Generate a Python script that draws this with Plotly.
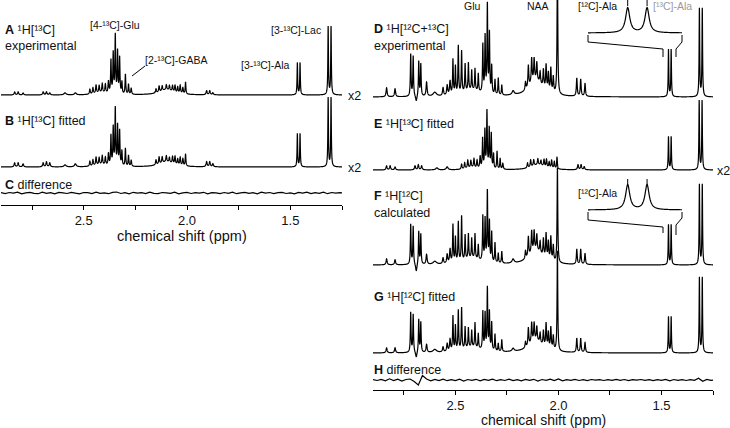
import numpy as np
import plotly.graph_objects as go

W, H = 730, 428

# ---------------- DATA ----------------
# 1H[13C] (13C-edited) resonances: ppm, height in A (experimental), height in B/E (fitted), half-width (ppm)
c13_ppm = [2.834, 2.817, 2.793, 2.696, 2.680, 2.664, 2.590, 2.540, 2.470, 2.455, 2.440, 2.425,
           2.410, 2.395, 2.380, 2.368, 2.357, 2.347, 2.336, 2.326, 2.315, 2.298, 2.283, 2.270,
           2.420, 2.100, 2.150, 2.135, 2.120, 2.100, 2.085, 2.070, 2.058, 2.045, 2.033, 2.020,
           2.007, 1.905, 1.890, 1.875, 1.466, 1.453, 1.317, 1.303]
c13_hA = [3, 3, 2, 3, 3, 2, 2, 2, 5, 6, 8, 7,
          9, 9, 12, 33, 40, 58, 42, 36, 12, 20, 10, 6,
          2, 5, 4, 6, 5, 5, 5, 6, 7, 6, 8, 6,
          12, 4, 4, 2, 32, 32, 68, 68]
c13_hB = [4, 4, 3, 4, 5, 4, 2, 3, 5, 6, 8, 7,
          9, 8, 12, 30, 38, 57, 40, 35, 15, 18, 11, 6,
          2, 5, 5, 7, 6, 6, 5, 7, 8, 6, 8, 7,
          12, 5, 5, 3, 33, 33, 69, 69]
c13_hw = [0.003, 0.003, 0.003, 0.003, 0.003, 0.003, 0.006, 0.005, 0.0025, 0.0025, 0.0025, 0.0025,
          0.0025, 0.0025, 0.0025, 0.002, 0.002, 0.002, 0.002, 0.002, 0.002, 0.002, 0.002, 0.0025,
          0.03, 0.04, 0.0025, 0.0025, 0.0025, 0.0025, 0.0025, 0.0025, 0.0025, 0.0025, 0.0025, 0.0025,
          0.002, 0.003, 0.003, 0.003, 0.0017, 0.0017, 0.0017, 0.0017]

# 1H[12C] / total resonances: ppm, height in G (fitted), F (calculated), D (experimental 12C+13C), half-width
c12_ppm = [2.834, 2.793, 2.717, 2.705, 2.690, 2.678, 2.668, 2.640, 2.600, 2.560, 2.540, 2.526,
           2.512, 2.500, 2.486, 2.470, 2.453, 2.437, 2.421, 2.405, 2.389, 2.367, 2.356, 2.345,
           2.335, 2.324, 2.308, 2.292, 2.275, 2.220, 2.420, 2.110, 2.160, 2.146, 2.130, 2.118,
           2.105, 2.089, 2.073, 2.060, 2.049, 2.037, 2.025, 2.005, 1.911, 1.892, 1.871, 1.466,
           1.453, 1.316, 1.302]
c12_hG = [5, 5, 40, 38, -6, 33, 30, 8, 3, 5, 8, 12,
          35, 25, 40, 42, 22, 20, 17, 25, 15, 38, 36, 62,
          38, 28, 17, 8, 12, 3, 5, 12, 6, 18, 20, 18,
          14, 10, 15, 24, 16, 22, 14, 100, 14, 14, 10, 36,
          36, 75, 75]
c12_hF = [6, 5, 40, 38, -8, 33, 30, 10, 3, 6, 9, 14,
          38, 25, 40, 45, 25, 25, 20, 25, 15, 45, 42, 70,
          40, 30, 20, 10, 12, 4, 6, 14, 8, 20, 22, 20,
          16, 12, 18, 25, 18, 24, 16, 95, 15, 15, 11, 40,
          40, 80, 80]
c12_hD = [9, 8, 42, 40, -6, 35, 32, 14, 4, 8, 10, 14,
          35, 28, 48, 42, 28, 28, 20, 22, 18, 48, 56, 88,
          60, 28, 15, 17, 10, 4, 6, 16, 8, 22, 25, 22,
          18, 12, 18, 25, 18, 24, 16, 140, 18, 17, 13, 47,
          47, 88, 88]
c12_hw = [0.003, 0.003, 0.002, 0.002, 0.004, 0.002, 0.002, 0.003, 0.01, 0.003, 0.003, 0.003,
          0.002, 0.002, 0.002, 0.002, 0.002, 0.002, 0.002, 0.002, 0.002, 0.002, 0.002, 0.002,
          0.002, 0.002, 0.002, 0.002, 0.002, 0.006, 0.05, 0.04, 0.0025, 0.0025, 0.0025, 0.0025,
          0.0025, 0.0025, 0.0025, 0.0025, 0.0025, 0.0025, 0.0025, 0.002, 0.0025, 0.0025, 0.0025, 0.0017,
          0.0017, 0.0017, 0.0017]

# difference spectra, sampled every 0.02 ppm from 2.90 ppm downward
diff_start, diff_step = 2.90, 0.02
diff_C = [0.3, -0.6, 0.5, -0.2, 0.8, -0.9, 0.2, 0.6, -0.4, -0.7, 0.9, -0.3, 0.4, -0.8, 0.6, 0.1,
          -0.5, 0.7, -0.2, -0.9, 0.5, 0.3, -0.6, 0.8, -0.4, 0.2, -0.7, 0.6, 1.0, -0.5, 0.3, -0.8,
          0.7, -0.1, 0.4, -0.6, 0.9, -0.3, -0.7, 0.5, 0.2, -0.4, 0.8, -0.9, 0.1, 0.6, -0.5, 0.3,
          -0.2, 0.7, -0.8, 0.4, 0.2, -0.6, 0.5, -0.3, 0.9, -0.7, 0.1, 0.6, -0.4, 0.3, -0.9, 0.8,
          -0.2, 0.5, -0.6, 0.4, 0.7, -0.5, 0.2, -0.8, 0.6, -0.1, 0.9, -0.6, 0.3, -0.4, 0.8, -0.7,
          0.5, -0.2, 0.4, -0.3]
diff_H = [0.3, -0.5, 0.6, -0.8, 1.2, -0.6, 0.8, -1.0, 0.5, 1.0, -1.5, -5.0, 4.5, 1.0, -0.8, 0.6,
          -0.5, 0.9, -0.7, 0.4, -0.6, 0.8, -1.0, 0.5, -0.3, 0.7, -0.9, 0.6, -0.4, 0.8, -0.7, 0.3,
          -0.5, 0.9, -0.6, 0.4, -0.8, 0.6, -0.3, 0.7, -1.0, 0.5, -0.4, 0.8, -0.6, 1.0, -0.9, 0.4,
          -0.3, 0.6, -0.5, 0.3, -0.6, 0.5, -0.2, 0.4, -0.5, 0.3, -0.4, 0.6, -0.3, 0.5, -0.6, 0.4,
          -0.2, 0.5, -0.4, 0.3, -0.6, 0.4, -0.3, 0.6, -0.8, 0.5, -0.4, 0.3, -0.5, 0.4, -0.3, 1.8,
          -1.2, 0.6, -0.4, 0.3]

tick_vals = [2.5, 2.0, 1.5]
tick_text = ["2.5", "2.0", "1.5"]
minor_vals = [2.75, 2.25, 1.75, 1.25]
x_range = [2.9, 1.25]

# ---------------- BUILD ----------------
grid = np.arange(1.24, 2.92, 0.00025)


def spectrum(ppm, h, hw):
    y = np.zeros_like(grid)
    for p, a, w in zip(ppm, h, hw):
        y += a / (1.0 + ((grid - p) / w) ** 2)
    return y


specA = spectrum(c13_ppm, c13_hA, c13_hw)
specB = spectrum(c13_ppm, c13_hB, c13_hw)
specD = spectrum(c12_ppm, c12_hD, c12_hw)
specF = spectrum(c12_ppm, c12_hF, c12_hw)
specG = spectrum(c12_ppm, c12_hG, c12_hw)
diff_x = diff_start - diff_step * np.arange(len(diff_C))

# layout geometry (pixels)
L_AXIS_Y, R_AXIS_Y = 205, 390
L_X0, L_X1 = 1, 342
R_X0, R_X1 = 373, 713


def px2ppm_R(px):
    return x_range[0] - (px - R_X0) / (R_X1 - R_X0) * (x_range[0] - x_range[1])


BLACK = "#000000"
line = dict(color=BLACK, width=1.2, simplify=False)
fig = go.Figure()

# left panel
for spec, base in [(specA, 95), (specB, 167)]:
    fig.add_trace(go.Scatter(x=grid, y=spec + (L_AXIS_Y - base), mode="lines", line=line,
                             xaxis="x", yaxis="y", hoverinfo="skip"))
fig.add_trace(go.Scatter(x=diff_x, y=np.array(diff_C) + (L_AXIS_Y - 193), mode="lines", line=line,
                         xaxis="x", yaxis="y", hoverinfo="skip"))
# right panel
for spec, base in [(specD, 97), (specB, 170), (specF, 265), (specG, 353)]:
    fig.add_trace(go.Scatter(x=grid, y=spec + (R_AXIS_Y - base), mode="lines", line=line,
                             xaxis="x2", yaxis="y2", hoverinfo="skip"))
fig.add_trace(go.Scatter(x=diff_x, y=np.array(diff_H) + (R_AXIS_Y - 380), mode="lines", line=line,
                         xaxis="x2", yaxis="y2", hoverinfo="skip"))

# insets (Ala region, horizontally expanded)
INS_X0, INS_X1 = 588, 682
ins_range = [px2ppm_R(663), px2ppm_R(676)]
fig.add_trace(go.Scatter(x=grid, y=specD, mode="lines", line=line, xaxis="x3", yaxis="y3", hoverinfo="skip"))
fig.add_trace(go.Scatter(x=grid, y=specF, mode="lines", line=line, xaxis="x4", yaxis="y4", hoverinfo="skip"))


def inset_y(top_px, bot_px, base_px, peak_h, peak_px):
    s = peak_px / peak_h
    dom = [1 - bot_px / H, 1 - top_px / H]
    rng = [-(bot_px - base_px) / s, (base_px - top_px) / s]
    return dom, rng


d3, r3 = inset_y(2, 44, 33, max(c12_hD[-4:-2]), 25)
d4, r4 = inset_y(172, 218, 210, max(c12_hF[-4:-2]), 25)

axis_common = dict(showline=True, linecolor="black", linewidth=1, ticks="outside", ticklen=4,
                   tickcolor="black", tickvals=tick_vals, ticktext=tick_text, range=x_range,
                   showgrid=False, zeroline=False, automargin=False, ticklabelstandoff=-1,
                   tickfont=dict(family="Liberation Sans, Arial", size=13, color="#111111"),
                   minor=dict(tickvals=minor_vals, ticks="outside", ticklen=4, tickcolor="black",
                              showgrid=False))
hidden = dict(visible=False, showgrid=False, zeroline=False, automargin=False)

fig.update_layout(
    width=W, height=H, margin=dict(l=0, r=0, t=0, b=0),
    paper_bgcolor="white", plot_bgcolor="rgba(0,0,0,0)", showlegend=False,
    xaxis=dict(domain=[L_X0 / W, L_X1 / W], anchor="y", **axis_common),
    yaxis=dict(domain=[1 - L_AXIS_Y / H, 1], range=[0, L_AXIS_Y], anchor="x", **hidden),
    xaxis2=dict(domain=[R_X0 / W, R_X1 / W], anchor="y2", **axis_common),
    yaxis2=dict(domain=[1 - R_AXIS_Y / H, 1], range=[0, R_AXIS_Y], anchor="x2", **hidden),
    xaxis3=dict(domain=[INS_X0 / W, INS_X1 / W], range=ins_range, anchor="y3", **hidden),
    yaxis3=dict(domain=d3, range=r3, anchor="x3", **hidden),
    xaxis4=dict(domain=[INS_X0 / W, INS_X1 / W], range=ins_range, anchor="y4", **hidden),
    yaxis4=dict(domain=d4, range=r4, anchor="x4", **hidden),
)

FONT = "Liberation Sans, Arial"
TXT = "#111111"


def txt(x, y, text, size=12.5, anchor="left", color=TXT):
    fig.add_annotation(x=x / W, y=1 - y / H, xref="paper", yref="paper", text=text, showarrow=False,
                       xanchor=anchor, yanchor="middle", font=dict(family=FONT, size=size, color=color))


# panel labels
txt(3, 30, "<b>A</b> ¹H[¹³C]")
txt(3, 46, "experimental")
txt(3, 121, "<b>B</b> ¹H[¹³C] fitted")
txt(3, 185, "<b>C</b> difference")
txt(372, 29, "<b>D</b> ¹H[¹²C+¹³C]")
txt(372, 46, "experimental")
txt(372, 124, "<b>E</b> ¹H[¹³C] fitted")
txt(372, 196, "<b>F</b> ¹H[¹²C]")
txt(372, 213, "calculated")
txt(372, 297, "<b>G</b> ¹H[¹²C] fitted")
txt(372, 370, "<b>H</b> difference")
# scale factors
txt(346, 96, "x2")
txt(346, 168, "x2")
txt(715, 171, "x2")
# assignments
txt(115, 25, "[4-¹³C]-Glu", size=10.5, anchor="center")
txt(143, 60, "[2-¹³C]-GABA", size=10.5)
txt(265, 65, "[3-¹³C]-Ala", size=10.5, anchor="center")
txt(296, 30, "[3-¹³C]-Lac", size=10.5, anchor="center")
txt(473, 6, "Glu", size=10.5, anchor="center")
txt(538, 6, "NAA", size=10.5, anchor="center")
txt(597, 6, "[¹²C]-Ala", size=10.5, anchor="center")
txt(651, 6, "[¹³C]-Ala", size=10.5, anchor="left", color="#9a9a9a")
txt(597, 193, "[¹²C]-Ala", size=10.5, anchor="center")
# axis titles
txt(182, 236, "chemical shift (ppm)", size=14.5, anchor="center")
txt(543, 420, "chemical shift (ppm)", size=14, anchor="center")

# leader line for GABA
fig.add_shape(type="line", xref="paper", yref="paper", x0=132 / W, y0=1 - 76 / H, x1=145 / W, y1=1 - 66 / H,
              line=dict(color=BLACK, width=1))

# brackets linking insets to the main Ala doublet (in right-panel data coordinates)
for base_ins, top_l, bot_l, top_r, bot_r in [(35, 42, 57, 42, 57), (212, 220, 233, 218, 235)]:
    pts_l = [(INS_X0, base_ins), (INS_X0, top_l), (663, top_l + 7), (663, bot_l)]
    pts_r = [(INS_X1, base_ins), (INS_X1, top_r), (676, top_r + 7), (676, bot_r)]
    for pts in (pts_l, pts_r):
        path = "M " + " L ".join(f"{px2ppm_R(px):.5f},{R_AXIS_Y - py:.2f}" for px, py in pts)
        fig.add_shape(type="path", xref="x2", yref="y2", path=path, line=dict(color=BLACK, width=1))

# peak markers above inset peaks
for ppm_mark in (c12_ppm[-4], c12_ppm[-3]):
    fig.add_shape(type="line", xref="x3", yref="paper", x0=ppm_mark, x1=ppm_mark,
                  y0=1 - 6 / H, y1=1 - 0 / H, line=dict(color=BLACK, width=1))
    fig.add_shape(type="line", xref="x4", yref="paper", x0=ppm_mark, x1=ppm_mark,
                  y0=1 - 185 / H, y1=1 - 179 / H, line=dict(color=BLACK, width=1))

fig.write_html("out.html", config={"displayModeBar": False},
               post_script="document.body.style.margin='0';document.body.style.padding='0';")
